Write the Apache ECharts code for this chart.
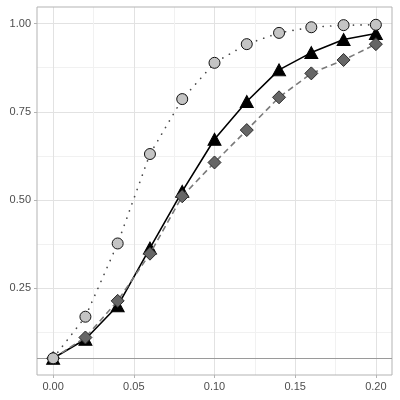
<!DOCTYPE html>
<html>
<head>
<meta charset="utf-8">
<script src="https://cdn.jsdelivr.net/npm/echarts@6/dist/echarts.min.js"></script>
<style>
  html, body { margin: 0; padding: 0; background: #fff; }
  #chart { width: 400px; height: 400px; }
</style>
</head>
<body>
<div id="chart"></div>
<script>
// data
const xValues = [0, 0.02, 0.04, 0.06, 0.08, 0.10, 0.12, 0.14, 0.16, 0.18, 0.20]
const circleValues = [0.05, 0.168, 0.376, 0.630, 0.786, 0.889, 0.942, 0.974, 0.990, 0.996, 0.997]
const triangleValues = [0.05, 0.104, 0.199, 0.363, 0.524, 0.672, 0.779, 0.869, 0.918, 0.955, 0.972]
const diamondValues = [0.05, 0.109, 0.213, 0.347, 0.510, 0.606, 0.698, 0.791, 0.859, 0.897, 0.942]
const xTicks = [0, 0.05, 0.10, 0.15, 0.20]
const yTicks = [0.25, 0.50, 0.75, 1.00]
const refLine = 0.05

// panel (ggplot-like expansion)
const xMin = -0.01, xMax = 0.21
const yMin = 0.0025, yMax = 1.0475
const pLeft = 37, pRight = 392, pTop = 7, pBottom = 375
const W = 400, H = 400
const kx = (pRight - pLeft) / (xMax - xMin)
const ky = (pBottom - pTop) / (yMax - yMin)
const xpx = v => pLeft + (v - xMin) * kx
const ypx = v => pTop + (yMax - v) * ky

const major = '#e2e2e2'
const minor = '#f1f1f1'
const textStyle = { color: '#4d4d4d', fontSize: 11, fontFamily: 'Liberation Sans' }

const pairs = vals => xValues.map((x, i) => [x, vals[i]])

var chartDom = document.getElementById('chart')
var myChart = echarts.init(chartDom)
var option = {
  animation: false,
  grid: [
    // 0: data panel
    { left: pLeft, right: W - pRight, top: pTop, bottom: H - pBottom, show: true, borderColor: '#b3b3b3', borderWidth: 1, z: 3 },
    // 1: x grid lines + labels
    { left: xpx(xTicks[0]), right: W - xpx(xTicks[xTicks.length - 1]), top: pTop, bottom: H - pBottom },
    // 2: y major grid lines + labels
    { left: pLeft, right: W - pRight, top: ypx(yTicks[yTicks.length - 1]), bottom: H - ypx(yTicks[0]) },
    // 3: lowest minor y line
    { left: pLeft, right: W - pRight, top: ypx(yTicks[0]), bottom: H - ypx(yTicks[0] / 2) }
  ],
  xAxis: [
    { type: 'value', gridIndex: 0, min: xMin, max: xMax, show: false, splitLine: { show: false } },
    {
      type: 'value', gridIndex: 1, min: xTicks[0], max: xTicks[xTicks.length - 1], interval: 0.05,
      axisLine: { show: false },
      axisTick: { show: true, length: 3, lineStyle: { color: '#b3b3b3' } },
      axisLabel: { ...textStyle, margin: 6, formatter: v => v.toFixed(2) },
      splitLine: { show: true, lineStyle: { color: major, width: 1 } },
      minorTick: { show: false, splitNumber: 2 },
      minorSplitLine: { show: true, lineStyle: { color: minor, width: 1 } }
    },
    { type: 'value', gridIndex: 2, show: false },
    { type: 'value', gridIndex: 3, show: false }
  ],
  yAxis: [
    { type: 'value', gridIndex: 0, min: yMin, max: yMax, show: false, splitLine: { show: false } },
    { type: 'value', gridIndex: 1, show: false },
    {
      type: 'value', gridIndex: 2, min: yTicks[0], max: yTicks[yTicks.length - 1], interval: 0.25,
      axisLine: { show: false },
      axisTick: { show: true, length: 3, lineStyle: { color: '#b3b3b3' } },
      axisLabel: { ...textStyle, margin: 6, formatter: v => v.toFixed(2) },
      splitLine: { show: true, lineStyle: { color: major, width: 1 } },
      minorTick: { show: false, splitNumber: 2 },
      minorSplitLine: { show: true, lineStyle: { color: minor, width: 1 } }
    },
    {
      type: 'value', gridIndex: 3, min: yTicks[0] / 2, max: yTicks[0], interval: 0.125,
      axisLine: { show: false }, axisTick: { show: false }, axisLabel: { show: false },
      splitLine: { show: true, lineStyle: { color: [minor, major], width: 1 } }
    }
  ],
  series: [
    {
      name: 'triangle', type: 'line', xAxisIndex: 0, yAxisIndex: 0, z: 4,
      data: pairs(triangleValues),
      symbol: 'triangle', symbolSize: [13, 12],
      lineStyle: { color: '#000', width: 1.6, type: 'solid' },
      itemStyle: { color: '#000', borderColor: '#000', borderWidth: 1 },
      markLine: {
        silent: true, symbol: 'none', label: { show: false },
        lineStyle: { color: '#9a9a9a', width: 1, type: 'solid' },
        data: [{ yAxis: refLine }]
      }
    },
    {
      name: 'diamond', type: 'line', xAxisIndex: 0, yAxisIndex: 0, z: 5,
      data: pairs(diamondValues),
      symbol: 'diamond', symbolSize: [13, 13],
      lineStyle: { color: '#7a7a7a', width: 1.6, type: [6, 4] },
      itemStyle: { color: '#666666', borderColor: '#2b2b2b', borderWidth: 1 }
    },
    {
      name: 'circle', type: 'line', xAxisIndex: 0, yAxisIndex: 0, z: 6,
      data: pairs(circleValues),
      symbol: 'circle', symbolSize: 11,
      lineStyle: { color: '#4a4a4a', width: 1.7, type: [0.1, 7.5], cap: 'round' },
      itemStyle: { color: '#c4c4c4', borderColor: '#111', borderWidth: 1 }
    }
  ]
}
option && myChart.setOption(option)
</script>
</body>
</html>
